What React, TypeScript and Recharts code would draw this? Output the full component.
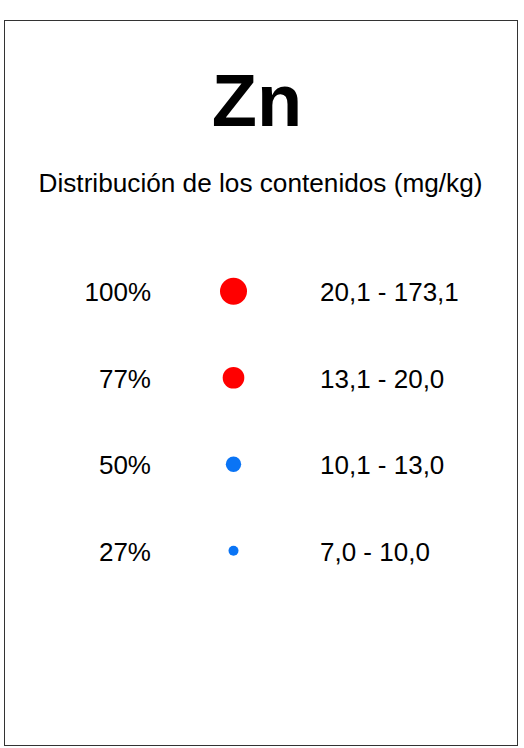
import { ScatterChart, Scatter, XAxis, YAxis, ZAxis, Cell } from "recharts";

const element = "Zn";
const subtitle = "Distribución de los contenidos (mg/kg)";
const percents = [100, 77, 50, 27];
const ranges = ["20,1 - 173,1", "13,1 - 20,0", "10,1 - 13,0", "7,0 - 10,0"];
const colors = ["#ff0000", "#ff0000", "#0a74f5", "#0a74f5"];

const FONT = "'Liberation Sans', Arial, sans-serif";

const data = percents.map((pct, i) => ({ el: element, pct, range: ranges[i] }));

const Dot = (props: any) => {
  const { cx, cy, size, fill, payload } = props;
  return (
    <g>
      <circle cx={cx} cy={cy} r={size} fill={fill} />
      <text
        x={cx + 86.5}
        y={cy + 1}
        dominantBaseline="central"
        fontFamily={FONT}
        fontSize={26}
        fill="#000"
      >
        {payload.range}
      </text>
    </g>
  );
};

export default function App() {
  return (
    <div style={{ position: "absolute", left: 0, top: 0, width: 524, height: 748, background: "#fff" }}>
      <div
        style={{
          position: "absolute",
          left: 4,
          top: 20,
          width: 512,
          height: 724,
          border: "1px solid #333",
        }}
      />
      <svg style={{ position: "absolute", left: 0, top: 0 }} width={524} height={748}>
        <text x={257} y={126} textAnchor="middle" fontFamily={FONT} fontWeight="bold" fontSize={74} fill="#000">
          {element}
        </text>
        <text x={260.5} y={191.5} textAnchor="middle" fontFamily={FONT} fontSize={26.2} fill="#000">
          {subtitle}
        </text>
      </svg>
      <div style={{ position: "absolute", left: 0, top: 0 }}>
        <ScatterChart width={524} height={748} margin={{ top: 248, right: 217, bottom: 154, left: 0 }}>
          <XAxis type="category" dataKey="el" allowDuplicatedCategory={false} hide />
          <YAxis
            type="category"
            dataKey="pct"
            reversed
            width={160}
            axisLine={false}
            tickLine={false}
            tickSize={0}
            tickMargin={9}
            tickFormatter={(v) => `${v}%`}
            tick={{ fill: "#000", fontSize: 26, fontFamily: FONT, dy: 1 }}
          />
          <ZAxis type="number" dataKey="pct" domain={[27, 100]} range={[5, 13.5]} />
          <Scatter data={data} shape={<Dot />} isAnimationActive={false}>
            {data.map((d, i) => (
              <Cell key={d.pct} fill={colors[i]} />
            ))}
          </Scatter>
        </ScatterChart>
      </div>
    </div>
  );
}
